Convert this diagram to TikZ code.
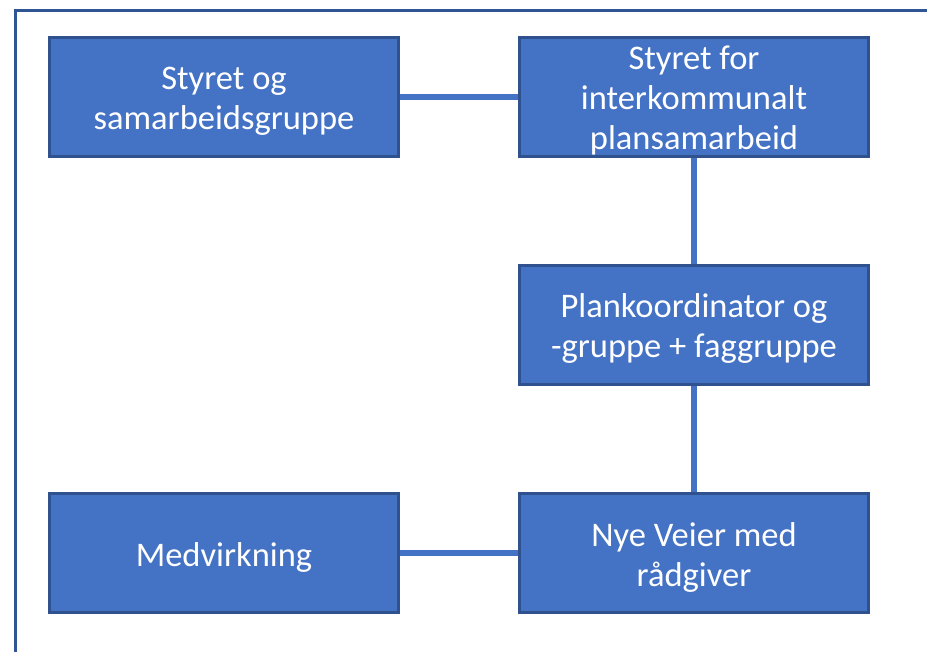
\documentclass[tikz,border=0pt]{standalone}
\usepackage{fontspec}
\newfontfamily\boxfont{Carlito}
\definecolor{boxfill}{HTML}{4472C4}
\definecolor{boxline}{HTML}{2F528F}
\definecolor{framecol}{HTML}{2F5597}
\newcommand\lstrut{\rule[-6pt]{0pt}{38pt}}
\tikzset{
  orgbox/.style={draw=boxline, line width=2.5pt, fill=boxfill, text=white,
    minimum width=349pt, minimum height=119pt, inner sep=0pt,
    align=center, font=\boxfont\fontsize{34.5}{40}\selectfont},
  link/.style={draw=boxfill, line width=6pt},
  framestyle/.style={draw=framecol, line width=3pt}
}
\begin{document}
\begin{tikzpicture}[x=1pt,y=-1pt]
\useasboundingbox (0,0) rectangle (927,652);
\coordinate (fc) at (15.5,11);
\coordinate (fr) at (930,11);
\coordinate (fb) at (15.5,660);
\draw[framestyle] (fr) -- (fc) -- (fb);
\node[orgbox] (b1) at (224,97) {\lstrut Styret og\\\lstrut samarbeidsgruppe};
\node[orgbox] (b2) at (694,97) {\lstrut Styret for\\\lstrut interkommunalt\\\lstrut plansamarbeid};
\node[orgbox] (b3) at (694,325) {\lstrut Plankoordinator og\\\lstrut -gruppe + faggruppe};
\node[orgbox] (b4) at (224,553) {\lstrut Medvirkning};
\node[orgbox] (b5) at (694,553) {\lstrut Nye Veier med\\\lstrut rådgiver};
\draw[link] (b1.east) -- (b2.west);
\draw[link] (b2.south) -- (b3.north);
\draw[link] (b3.south) -- (b5.north);
\draw[link] (b4.east) -- (b5.west);
\end{tikzpicture}
\end{document}
